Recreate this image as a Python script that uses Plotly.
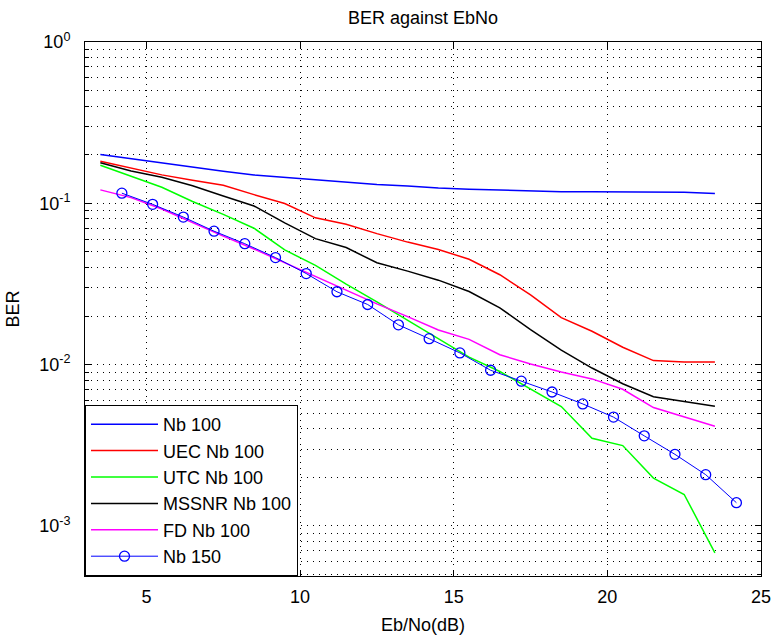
import plotly.graph_objects as go

# Eb/No grids (dB)
ebno_100 = [3.5, 4.5, 5.5, 6.5, 7.5, 8.5, 9.5, 10.5, 11.5, 12.5, 13.5,
            14.5, 15.5, 16.5, 17.5, 18.5, 19.5, 20.5, 21.5, 22.5, 23.5]
ebno_150 = [4.2, 5.2, 6.2, 7.2, 8.2, 9.2, 10.2, 11.2, 12.2, 13.2, 14.2,
            15.2, 16.2, 17.2, 18.2, 19.2, 20.2, 21.2, 22.2, 23.2, 24.2]

# BER curves
ber_nb100 = [0.201, 0.189, 0.178, 0.167, 0.158, 0.150, 0.145, 0.141, 0.136, 0.131, 0.128,
             0.1245, 0.1224, 0.1207, 0.1198, 0.1181, 0.1179, 0.1173, 0.1173, 0.1173, 0.1151]
ber_uec = [0.1824, 0.1657, 0.1501, 0.1389, 0.1295, 0.1132, 0.0997, 0.0813, 0.0742, 0.0649, 0.0575,
           0.0518, 0.0450, 0.0361, 0.0271, 0.01957, 0.0161, 0.01282, 0.01060, 0.01037, 0.01037]
ber_utc = [0.1723, 0.1480, 0.1258, 0.1026, 0.0854, 0.0701, 0.0514, 0.0413, 0.0316, 0.0245, 0.0189,
           0.01455, 0.01113, 0.00907, 0.00709, 0.0055, 0.0035, 0.00315, 0.00198, 0.001568, 0.000682]
ber_mssnr = [0.1783, 0.1588, 0.1449, 0.1285, 0.1109, 0.0963, 0.0757, 0.0604, 0.0532, 0.0428, 0.0380,
             0.0334, 0.0284, 0.0225, 0.0165, 0.01229, 0.00953, 0.00761, 0.00633, 0.00590, 0.00552]
ber_fd = [0.1212, 0.1085, 0.0923, 0.0757, 0.0626, 0.0521, 0.0428, 0.0349, 0.0290, 0.0238, 0.01984,
          0.01640, 0.01435, 0.01153, 0.01009, 0.00901, 0.00816, 0.00704, 0.00542, 0.00474, 0.00415]
ber_nb150 = [0.1156, 0.0986, 0.0822, 0.0672, 0.0562, 0.0461, 0.0367, 0.0283, 0.0236, 0.01765, 0.01449,
             0.01183, 0.00923, 0.00790, 0.00677, 0.00571, 0.00473, 0.00362, 0.00278, 0.00208, 0.001394]

series_names = ["Nb 100", "UEC Nb 100", "UTC Nb 100", "MSSNR Nb 100", "FD Nb 100", "Nb 150"]
series_colors = ["#0000ff", "#ff0000", "#00ff00", "#000000", "#ff00ff", "#0000ff"]

x_ticks = [5, 10, 15, 20, 25]
y_ticks = [1e-3, 1e-2, 1e-1, 1]
y_tick_text = ["10<sup>-3</sup>", "10<sup>-2</sup>", "10<sup>-1</sup>", "10<sup>0</sup>"]
y_minor = [m * 10.0 ** e for e in (-4, -3, -2, -1) for m in range(2, 10)]

FONT = "Liberation Sans, Arial, sans-serif"
FS = 18

fig = go.Figure()
curves = [ber_nb100, ber_uec, ber_utc, ber_mssnr, ber_fd]
for i, ys in enumerate(curves):
    fig.add_trace(go.Scatter(
        x=ebno_100, y=ys, mode="lines", name=series_names[i],
        legendgroup=f"g{i}",
        line=dict(color=series_colors[i], width=1.5),
    ))
fig.add_trace(go.Scatter(
    x=ebno_150, y=ber_nb150, mode="lines+markers", name=series_names[5],
    legendgroup="g5",
    line=dict(color=series_colors[5], width=1),
    marker=dict(symbol="circle-open", size=10, color=series_colors[5], line=dict(width=1.3)),
))

grid_dash = "1px,5px"
fig.update_xaxes(
    range=[3, 25], tickmode="array", tickvals=x_ticks,
    showline=True, linecolor="black", linewidth=1, mirror="allticks",
    ticks="inside", ticklen=6, tickcolor="black", ticklabelstandoff=4,
    showgrid=True, gridcolor="black", gridwidth=1, griddash=grid_dash,
    zeroline=False,
    tickfont=dict(family=FONT, size=FS, color="black"),
    title=dict(text="Eb/No(dB)", font=dict(family=FONT, size=FS, color="black"), standoff=12),
)
fig.update_yaxes(
    type="log", range=[-3.31, 0], tickmode="array", tickvals=y_ticks, ticktext=y_tick_text,
    showline=True, linecolor="black", linewidth=1, mirror="allticks",
    ticks="inside", ticklen=6, tickcolor="black", ticklabelstandoff=10,
    showgrid=True, gridcolor="black", gridwidth=1, griddash=grid_dash,
    minor=dict(tickmode="array", tickvals=y_minor, ticks="inside", ticklen=4,
               tickcolor="black", showgrid=True, gridcolor="black", gridwidth=1,
               griddash=grid_dash),
    zeroline=False,
    tickfont=dict(family=FONT, size=FS, color="black"),
    title=dict(text="BER", font=dict(family=FONT, size=FS, color="black"), standoff=14),
)

fig.update_layout(
    width=783, height=643,
    margin=dict(l=85, r=12, t=42, b=60),
    paper_bgcolor="white", plot_bgcolor="white",
    title=dict(text="BER against EbNo", x=0.5, xref="paper", xanchor="center",
               y=1 - 18 / 643, yref="container", yanchor="middle",
               font=dict(family=FONT, size=FS, color="black")),
    legend=dict(x=0, y=0, xanchor="left", yanchor="bottom",
                bgcolor="white", bordercolor="black", borderwidth=1,
                font=dict(family=FONT, size=FS, color="black"),
                tracegroupgap=0, itemwidth=67),
    showlegend=True,
)

fig.write_html("out.html")
